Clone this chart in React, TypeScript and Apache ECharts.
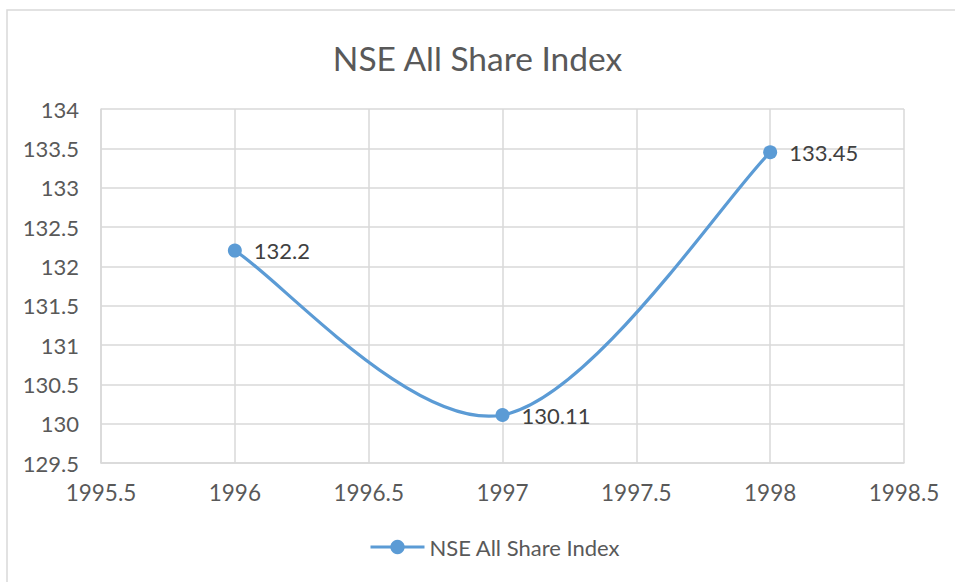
import React, { useEffect, useRef } from "react";
import * as echarts from "echarts";

const years = [1996, 1997, 1998];
const values = [132.2, 130.11, 133.45];
const seriesName = "NSE All Share Index";
const titleText = "NSE All Share Index";

const LINE_COLOR = "#5b9bd5";

export default function App() {
  const ref = useRef<HTMLDivElement>(null);
  useEffect(() => {
    document.body.style.margin = "0";
    if (!ref.current) return;
    const chart = echarts.init(ref.current, null, { renderer: "svg" });
    const font = "Lato, 'Open Sans', sans-serif";
    const pts = years.map((y, i) => [y, values[i]]);
    chart.setOption({
      animation: false,
      backgroundColor: "#ffffff",
      textStyle: { fontFamily: font },
      graphic: [
        {
          type: "rect",
          shape: { x: 7, y: 10, width: 1000, height: 700 },
          style: { fill: "none", stroke: "#d9d9d9", lineWidth: 1.5 },
          silent: true,
        },
      ],
      title: {
        text: titleText,
        left: "center",
        top: 36,
        textStyle: { fontFamily: font, fontSize: 33.5, fontWeight: "normal", color: "#595959" },
      },
      legend: {
        bottom: 19,
        left: 364,
        itemWidth: 54,
        itemHeight: 18,
        itemGap: 8,
        data: [
          {
            name: seriesName,
            lineStyle: { color: LINE_COLOR, width: 3, opacity: 1 },
          },
        ],
        lineStyle: { color: LINE_COLOR, width: 3, opacity: 1 },
        textStyle: { fontFamily: font, fontSize: 22, color: "#595959" },
      },
      grid: { left: 101, right: 51, top: 109, bottom: 119 },
      xAxis: {
        type: "value",
        min: 1995.5,
        max: 1998.5,
        interval: 0.5,
        axisLine: { show: true, lineStyle: { color: "#d9d9d9", width: 1.5 } },
        axisTick: { show: false },
        splitLine: { show: true, lineStyle: { color: "#d9d9d9", width: 1.5 } },
        axisLabel: {
          fontFamily: font,
          fontSize: 22.5,
          color: "#595959",
          margin: 18,
          formatter: (v: number) => String(v),
        },
      },
      yAxis: {
        type: "value",
        min: 129.5,
        max: 134,
        interval: 0.5,
        axisLine: { show: true, lineStyle: { color: "#d9d9d9", width: 1.5 } },
        axisTick: { show: false },
        splitLine: { show: true, lineStyle: { color: "#d9d9d9", width: 1.5 } },
        axisLabel: {
          fontFamily: font,
          fontSize: 22,
          color: "#595959",
          margin: 22,
          formatter: (v: number) => String(v),
        },
      },
      series: [
        {
          name: "curve",
          type: "custom",
          silent: true,
          z: 1,
          data: pts,
          encode: { x: 0, y: 1 },
          renderItem: (params: any, api: any) => {
            if (params.dataIndex !== 0) return null;
            const p = pts.map((d) => api.coord(d));
            const n = p.length;
            const children: any[] = [];
            for (let i = 0; i < n - 1; i++) {
              const p0 = p[Math.max(i - 1, 0)];
              const p1 = p[i];
              const p2 = p[i + 1];
              const p3 = p[Math.min(i + 2, n - 1)];
              const c1x = p1[0] + (p2[0] - p0[0]) / 6;
              const c1y = p1[1] + (p2[1] - p0[1]) / 6;
              const c2x = p2[0] - (p3[0] - p1[0]) / 6;
              const c2y = p2[1] - (p3[1] - p1[1]) / 6;
              children.push({
                type: "bezierCurve",
                shape: {
                  x1: p1[0],
                  y1: p1[1],
                  x2: p2[0],
                  y2: p2[1],
                  cpx1: c1x,
                  cpy1: c1y,
                  cpx2: c2x,
                  cpy2: c2y,
                },
                style: { stroke: LINE_COLOR, lineWidth: 3.2, fill: "none" },
              });
            }
            return { type: "group", children };
          },
        },
        {
          name: seriesName,
          type: "line",
          z: 2,
          data: pts,
          symbol: "circle",
          symbolSize: 14,
          itemStyle: { color: LINE_COLOR },
          lineStyle: { color: LINE_COLOR, width: 3, opacity: 0 },
          label: {
            show: true,
            position: "right",
            distance: 12,
            fontFamily: font,
            fontSize: 22,
            color: "#404040",
            formatter: (p: any) => String(p.value[1]),
          },
        },
      ],
    });
    return () => chart.dispose();
  }, []);
  return <div ref={ref} style={{ width: 955, height: 582 }} />;
}
